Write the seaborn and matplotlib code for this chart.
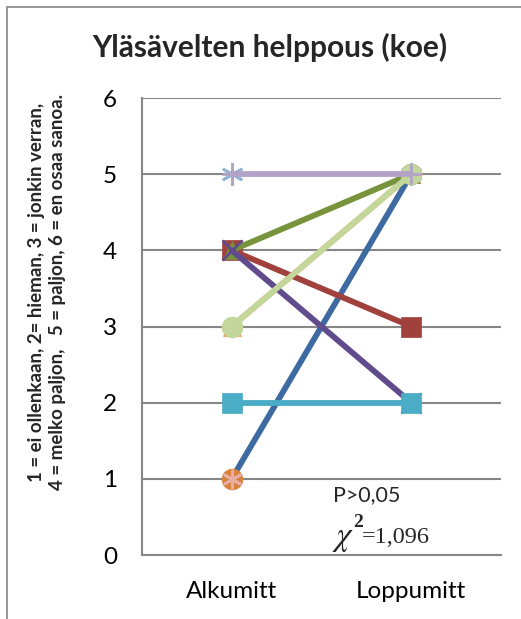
import matplotlib
matplotlib.use("Agg")
import matplotlib.pyplot as plt
from matplotlib.patches import Rectangle
import seaborn as sns
import pandas as pd

# Measurement points
categories = ["Alkumitt", "Loppumitt"]

# Answers per respondent (scale 1-6), in drawing order
s_orange_tri = [3, 5]
s_blue = [1, 5]
s_pink = [1, 5]
s_red = [4, 3]
s_green = [4, 5]
s_purple = [4, 2]
s_aqua = [2, 2]
s_lightblue = [5, 5]
s_lightgreen = [3, 5]
s_lavender = [5, 5]

y_ticks = [0, 1, 2, 3, 4, 5, 6]

series = [
    ("orange_tri", s_orange_tri, dict(color="#F79646", marker="^", mfc="#F79646", ms=13, ls="-")),
    ("blue", s_blue, dict(color="#3D6AA1", marker="o", mfc="#D8823B", ms=15, ls="-")),
    ("pink", s_pink, dict(color="#E8AFA6", marker=(6, 2, 0), mfc="#E8AFA6", ms=14, ls="none")),
    ("red", s_red, dict(color="#A0413E", marker="s", mfc="#A0413E", ms=14, ls="-")),
    ("green", s_green, dict(color="#77933C", marker="^", mfc="#77933C", ms=13, ls="-")),
    ("purple", s_purple, dict(color="#604C8C", marker="x", mfc="#604C8C", ms=14, ls="-")),
    ("aqua", s_aqua, dict(color="#4BACC6", marker="s", mfc="#4BACC6", ms=14, ls="-")),
    ("lightblue", s_lightblue, dict(color="#95B3D7", marker=(6, 2, 0), mfc="#95B3D7", ms=16, ls="none")),
    ("lightgreen", s_lightgreen, dict(color="#C3D69B", marker="o", mfc="#C3D69B", ms=15, ls="-")),
    ("lavender", s_lavender, dict(color="#B3A2C7", marker="+", mfc="#B3A2C7", ms=15, ls="-")),
]

rows = []
for name, vals, _ in series:
    for cat, v in zip(categories, vals):
        rows.append({"series": name, "mitt": cat, "arvo": v})
df = pd.DataFrame(rows)

sns.set_theme(style="white")
plt.rcParams["font.family"] = ["Lato", "DejaVu Sans"]
plt.rcParams["mathtext.fontset"] = "stix"

fig = plt.figure(figsize=(5.21, 6.19), dpi=100)

# Chart area frame: a thin strip for the top edge and one for the left edge
fig.add_artist(Rectangle((6 / 521, 1 - 8 / 619), 1, 2 / 619,
                         transform=fig.transFigure, facecolor="#9A9A9A",
                         edgecolor="none", zorder=5))
fig.add_artist(Rectangle((6 / 521, 0), 2 / 521, 1 - 6 / 619,
                         transform=fig.transFigure, facecolor="#9A9A9A",
                         edgecolor="none", zorder=5))

ax = fig.add_axes([142 / 521, 1 - 555 / 619, 359 / 521, 457 / 619])

for name, vals, st in series:
    sub = df[df["series"] == name]
    drawn = st["ls"] != "none"
    sns.lineplot(
        data=sub, x="mitt", y="arvo", ax=ax, sort=False,
        color=st["color"], lw=4.2 if drawn else 0, linestyle="-",
        marker=st["marker"], markersize=st["ms"],
        markerfacecolor=st["mfc"], markeredgecolor=st["mfc"],
        markeredgewidth=2.0 if st["marker"] in ("x", "+") or isinstance(st["marker"], tuple) else 0.5,
        legend=False,
    )

ax.set_xlim(-0.5, 1.5)
ax.set_ylim(0, 6)
ax.set_yticks(y_ticks)
ax.set_yticklabels([str(t) for t in y_ticks])
ax.set_xticks(range(len(categories)))
ax.set_xticklabels(categories)
ax.tick_params(axis="both", length=0, labelsize=17.5, colors="#000000")
ax.tick_params(axis="y", pad=18)
ax.tick_params(axis="x", pad=19)
ax.set_xlabel("")
ax.set_ylabel("")

ax.yaxis.grid(True, color="#878787", lw=1.5)
ax.set_axisbelow(True)
for side in ("top", "right"):
    ax.spines[side].set_visible(False)
for side in ("left", "bottom"):
    ax.spines[side].set_color("#878787")
    ax.spines[side].set_linewidth(1.5)

# Title and axis caption
fig.text(270 / 521, 1 - 47 / 619, "Yläsävelten helppous (koe)",
         ha="center", va="center", fontsize=21.5, fontweight="bold")
fig.text(37 / 521, 1 - 292 / 619, "1 = ei ollenkaan, 2= hieman, 3 = jonkin verran,",
         ha="center", va="center", rotation=90, fontsize=13.5, fontweight="bold")
fig.text(58 / 521, 1 - 292 / 619, "4 = melko paljon,   5 = paljon, 6 = en osaa sanoa.",
         ha="center", va="center", rotation=90, fontsize=13.5, fontweight="bold")

# Test statistic
def px(x, y):
    return (x - 142) / 359, (555 - y) / 457

ax.text(*px(333, 495), "P>0,05", transform=ax.transAxes,
        ha="left", va="center", fontsize=15.5)
ax.text(*px(332, 545), r"$\chi$", transform=ax.transAxes,
        ha="left", va="baseline", fontsize=24)
ax.text(*px(353, 527), "2", transform=ax.transAxes,
        ha="left", va="baseline", fontsize=14,
        fontweight="bold", family="Liberation Serif")
ax.text(*px(362, 543), "=1,096", transform=ax.transAxes,
        ha="left", va="baseline", fontsize=17.5,
        family="Liberation Serif")

fig.savefig("out.png", dpi=100)
